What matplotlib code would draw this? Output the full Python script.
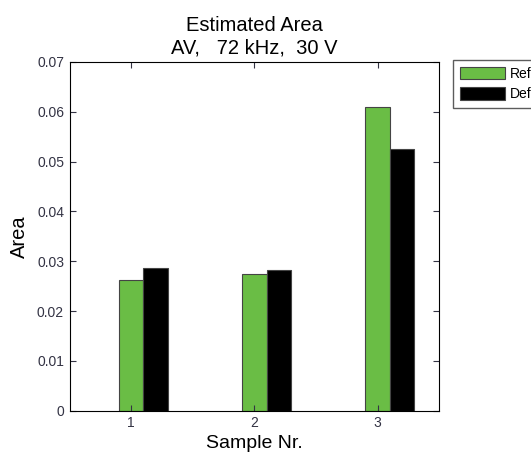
import numpy as np
import matplotlib.pyplot as plt

plt.rcParams['font.family'] = ['Liberation Sans', 'DejaVu Sans']

samples = [1, 2, 3]
tick_labels = ['1', '2', '3']
ref_area = [0.0262, 0.0274, 0.0610]
def_area = [0.0287, 0.0283, 0.0526]
series_names = ['Reference', 'Defect']

fig = plt.figure(figsize=(5.31, 4.58), dpi=100)
ax = fig.add_axes([0.131, 0.103, 0.696, 0.762])

x = np.array(samples)
w = 0.2
ax.bar(x, ref_area, w, color='#6abd45', edgecolor='#444444', linewidth=0.8, label=series_names[0])
ax.bar(x + w, def_area, w, color='black', edgecolor='#444444', linewidth=0.8, label=series_names[1])

ax.set_xlim(0.5, 3.5)
ax.set_ylim(0, 0.07)
ax.set_xticks(x)
ax.set_xticklabels(tick_labels)
ax.set_yticks(np.arange(0, 0.071, 0.01))
ax.set_yticklabels(['0'] + ['%.2f' % v for v in np.arange(0.01, 0.071, 0.01)])
ax.tick_params(direction='in', top=True, right=True, labelsize=10, colors='#333344',
               length=4, pad=4)
for s in ax.spines.values():
    s.set_linewidth(0.8)

ax.set_xlabel('Sample Nr.', fontsize=14, labelpad=3)
ax.set_ylabel('Area', fontsize=14.5, labelpad=6)
ax.set_title('Estimated Area\nAV,   72 kHz,  30 V', fontsize=14.5, pad=6)

ax.legend(loc='upper left', bbox_to_anchor=(1.038, 1.005), fontsize=10, frameon=True,
          fancybox=False, edgecolor='#333333', handlelength=3.2, handleheight=1.0,
          labelspacing=0.45, handletextpad=0.35, borderpad=0.5, borderaxespad=0)

fig.savefig('out.png', dpi=100)
